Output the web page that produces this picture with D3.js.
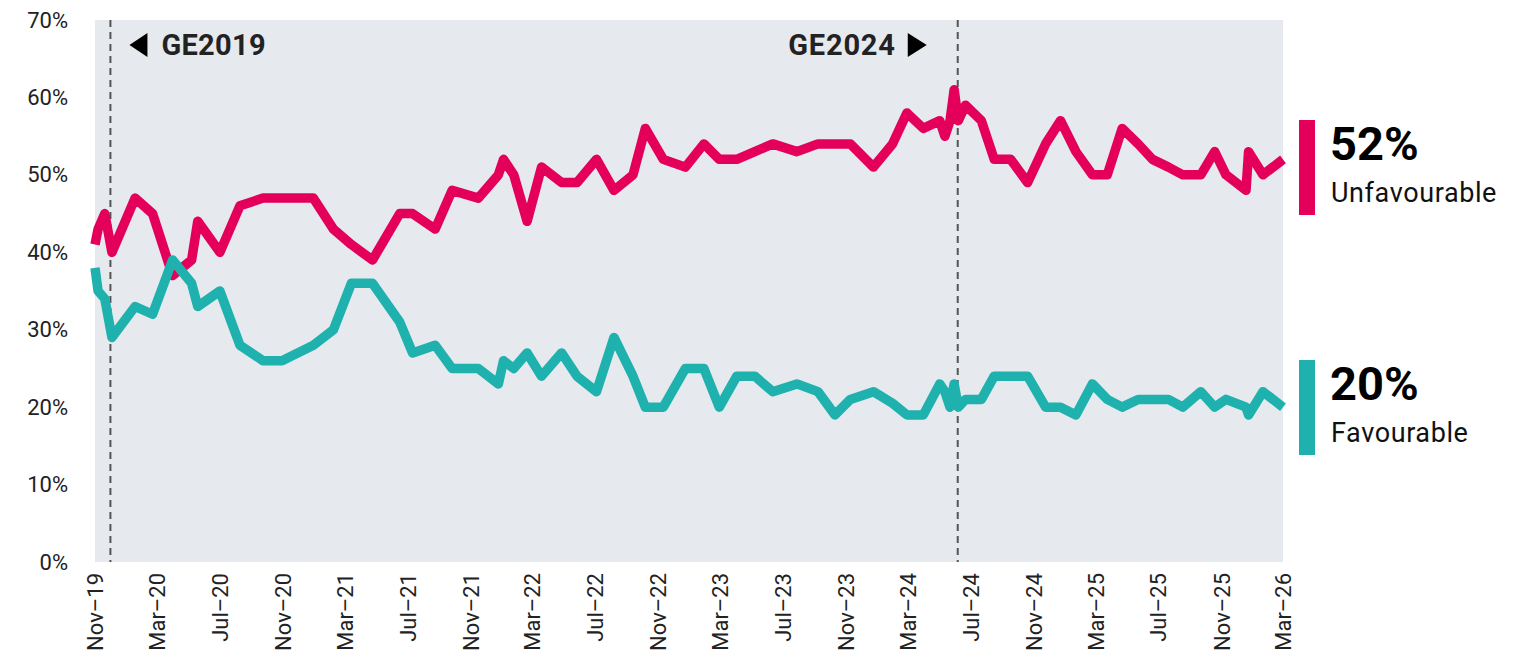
<!DOCTYPE html>
<html>
<head>
<meta charset="utf-8">
<script src="https://cdn.jsdelivr.net/npm/d3@7"></script>
<style>
  html, body { margin: 0; padding: 0; background: #fff; }
  svg { display: block; font-family: Roboto, "Noto Sans", sans-serif; }
</style>
</head>
<body>
<svg id="chart" width="1531" height="665"></svg>
<script>
// ---- Data ----
const dates = [
  "2019-11-01","2019-11-07","2019-11-20","2019-12-04","2020-01-18","2020-02-21","2020-03-31","2020-05-07","2020-05-19","2020-07-01",
  "2020-08-09","2020-09-23","2020-10-30","2020-12-30","2021-02-07","2021-03-14","2021-04-24","2021-06-16","2021-07-11","2021-08-24",
  "2021-09-26","2021-11-16","2021-12-25","2022-01-04","2022-01-24","2022-02-19","2022-03-19","2022-04-27","2022-05-27","2022-07-04",
  "2022-08-07","2022-09-13","2022-10-07","2022-11-11","2022-12-24","2023-01-29","2023-02-28","2023-04-03","2023-05-08","2023-06-12",
  "2023-07-29","2023-09-08","2023-10-11","2023-11-10","2023-12-25","2024-01-31","2024-02-28","2024-03-31","2024-05-02","2024-05-12",
  "2024-05-22","2024-05-30","2024-06-07","2024-06-21","2024-07-22","2024-08-16","2024-09-17","2024-10-20","2024-11-24","2024-12-23",
  "2025-01-22","2025-02-23","2025-03-24","2025-04-22","2025-05-23","2025-06-20","2025-07-21","2025-08-18","2025-09-22","2025-10-19",
  "2025-11-10","2025-12-19","2025-12-24","2026-01-21","2026-03-01"
];
const unfavourable = [
  41,43,45,40,47,45,37,39,44,40,
  46,47,47,47,43,41,39,45,45,43,
  48,47,50,52,50,44,51,49,49,52,
  48,50,56,52,51,54,52,52,53,54,
  53,54,54,54,51,54,58,56,57,55,
  57,61,57,59,57,52,52,49,54,57,
  53,50,50,56,54,52,51,50,50,53,
  50,48,53,50,52
];
const favourable = [
  38,35,34,29,33,32,39,36,33,35,
  28,26,26,28,30,36,36,31,27,28,
  25,25,23,26,25,27,24,27,24,22,
  29,24,20,20,25,25,20,24,24,22,
  23,22,19,21,22,20.5,19,19,23,22,
  20,23,20,21,21,24,24,24,20,20,
  19,23,21,20,21,21,21,20,22,20,
  21,20,19,22,20
];
const xTickLabels = ["Nov–19","Mar–20","Jul–20","Nov–20","Mar–21","Jul–21","Nov–21","Mar–22","Jul–22","Nov–22",
  "Mar–23","Jul–23","Nov–23","Mar–24","Jul–24","Nov–24","Mar–25","Jul–25","Nov–25","Mar–26"];
const xTickDates = ["2019-11-01","2020-03-01","2020-07-01","2020-11-01","2021-03-01","2021-07-01","2021-11-01","2022-03-01",
  "2022-07-01","2022-11-01","2023-03-01","2023-07-01","2023-11-01","2024-03-01","2024-07-01","2024-11-01","2025-03-01",
  "2025-07-01","2025-11-01","2026-03-01"];
const yTicks = [0,10,20,30,40,50,60,70];
const electionLabels = ["GE2019","GE2024"];
const electionDates = ["2019-12-01","2024-06-06"];
const seriesNames = ["Unfavourable","Favourable"];
const latestValues = [52, 20];

// ---- Layout ----
const parse = d3.timeParse("%Y-%m-%d");
const svg = d3.select("#chart");
const M = {left: 95, right: 1283, top: 20, bottom: 562};
const colors = {Unfavourable: "#E4005A", Favourable: "#1FB1AE"};

const x = d3.scaleTime()
  .domain([parse("2019-11-01"), parse("2026-03-01")])
  .range([M.left, M.right]);
const y = d3.scaleLinear().domain([0, 70]).range([M.bottom, M.top]);

svg.append("rect").attr("x", M.left).attr("y", M.top)
  .attr("width", M.right - M.left).attr("height", M.bottom - M.top)
  .attr("fill", "#E6E9EE");

// Y axis
const yAxis = svg.append("g").attr("transform", `translate(${M.left},0)`)
  .call(d3.axisLeft(y).tickValues(yTicks).tickFormat(d => d + "%").tickSize(0).tickPadding(27));
yAxis.select(".domain").remove();
yAxis.selectAll("text").attr("font-size", 22).attr("fill", "#222")
  .attr("font-family", "Roboto, sans-serif").attr("font-weight", 400);

// X axis
const xAxis = svg.append("g").attr("transform", `translate(0,${M.bottom})`)
  .call(d3.axisBottom(x).tickValues(xTickDates.map(parse))
    .tickFormat((d, i) => xTickLabels[i]).tickSize(0));
xAxis.select(".domain").remove();
xAxis.selectAll("text")
  .attr("font-size", 22).attr("fill", "#222").attr("font-weight", 400)
  .attr("font-family", "Roboto, sans-serif")
  .attr("text-anchor", "end")
  .attr("dy", "0.35em")
  .attr("transform", "translate(0,11) rotate(-90)")
  .attr("x", 0).attr("y", 0);

// Election lines
electionDates.forEach((d, i) => {
  const ex = x(parse(d));
  svg.append("line").attr("x1", ex).attr("x2", ex).attr("y1", M.top).attr("y2", M.bottom)
    .attr("stroke", "#555").attr("stroke-width", 2).attr("stroke-dasharray", "7,5");
  const g = svg.append("g");
  if (i === 0) {
    g.append("path").attr("d", `M${ex+19},45 L${ex+37},33 L${ex+37},57 Z`).attr("fill", "#000");
    g.append("text").attr("x", ex + 51).attr("y", 55).text(electionLabels[i])
      .attr("font-size", 29).attr("font-weight", 700).attr("fill", "#222").attr("letter-spacing", 0.3);
  } else {
    g.append("text").attr("x", ex - 62).attr("y", 55).attr("text-anchor", "end").text(electionLabels[i])
      .attr("font-size", 29).attr("font-weight", 700).attr("fill", "#222").attr("letter-spacing", 0.8);
    g.append("path").attr("d", `M${ex-50},33 L${ex-31},45 L${ex-50},57 Z`).attr("fill", "#000");
  }
});

// Lines
const series = [
  {name: seriesNames[0], values: unfavourable},
  {name: seriesNames[1], values: favourable}
];
const line = d3.line().x((d, i) => x(parse(dates[i]))).y(d => y(d));
series.forEach(s => {
  svg.append("path").datum(s.values)
    .attr("d", line)
    .attr("fill", "none")
    .attr("stroke", colors[s.name])
    .attr("stroke-width", 9.5)
    .attr("stroke-linejoin", "round")
    .attr("stroke-linecap", "butt");
});

// Legend / end labels
const legendTop = [120, 360];
series.forEach((s, i) => {
  const g = svg.append("g");
  g.append("rect").attr("x", 1299).attr("y", legendTop[i]).attr("width", 16).attr("height", 95)
    .attr("fill", colors[s.name]);
  g.append("text").attr("x", 1330).attr("y", legendTop[i] + 40).text(latestValues[i] + "%")
    .attr("font-size", 47).attr("font-weight", 700).attr("fill", "#000");
  g.append("text").attr("x", 1331).attr("y", legendTop[i] + 82).text(s.name)
    .attr("font-size", 27).attr("font-weight", 400).attr("fill", "#111").attr("letter-spacing", 0.6);
});
</script>
</body>
</html>
